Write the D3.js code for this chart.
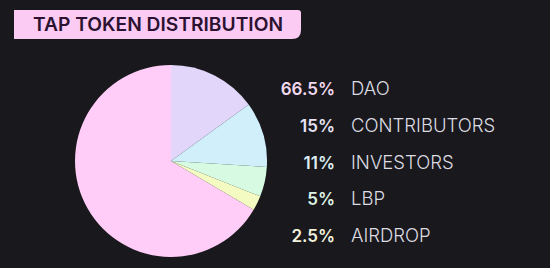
<!DOCTYPE html>
<html><head><meta charset="utf-8">
<script src="https://cdn.jsdelivr.net/npm/d3@7"></script>
<style>html,body{margin:0;padding:0;background:#19181d;overflow:hidden}</style>
</head><body>
<svg id="c" width="550" height="268"></svg>
<script>
const categories = ["DAO", "CONTRIBUTORS", "INVESTORS", "LBP", "AIRDROP"];
const values = [66.5, 15, 11, 5, 2.5];
const pctLabels = ["66.5%", "15%", "11%", "5%", "2.5%"];
const sliceColors = ["#ffcdf8", "#e3d6fb", "#d1eefb", "#d6fbe2", "#f3fbc3"];
const pctColors = ["#f2d9ef", "#e6e2f4", "#ddeef3", "#dff3e5", "#f2f2dc"];
const title = "TAP TOKEN DISTRIBUTION";

const svg = d3.select("#c");
svg.append("rect").attr("width", 550).attr("height", 268).attr("fill", "#19181d");

// Title box: square left, rounded right corners (larger at bottom-right)
const bx0 = 14, by0 = 10, bx1 = 301, by1 = 39, rTop = 3, rBot = 9;
svg.append("path")
  .attr("d", `M${bx0},${by0} H${bx1 - rTop} Q${bx1},${by0} ${bx1},${by0 + rTop} V${by1 - rBot} Q${bx1},${by1} ${bx1 - rBot},${by1} H${bx0} Z`)
  .attr("fill", "#fccbf4");
svg.append("text")
  .attr("x", 33).attr("y", 31)
  .attr("font-family", "Inter, 'Open Sans', sans-serif")
  .attr("font-weight", 600)
  .attr("font-size", 18.5)
  .attr("textLength", 250).attr("lengthAdjust", "spacingAndGlyphs")
  .attr("fill", "#2b1230")
  .text(title);

// Pie
const data = categories.map((c, i) => ({ cat: c, value: values[i], color: sliceColors[i], pct: pctLabels[i], pc: pctColors[i] }));
const a0 = -values[0] / d3.sum(values) * 2 * Math.PI;
const pie = d3.pie().value(d => d.value).sort(null).startAngle(a0).endAngle(a0 + 2 * Math.PI);
const arc = d3.arc().innerRadius(0).outerRadius(96);
svg.append("g").attr("transform", "translate(171,161)")
  .selectAll("path").data(pie(data)).join("path")
  .attr("d", arc).attr("fill", d => d.data.color);

// Legend
const y = d3.scalePoint().domain(categories).range([95, 242]);
const lg = svg.append("g");
lg.selectAll("text.pct").data(data).join("text")
  .attr("class", "pct")
  .attr("x", 335).attr("y", d => y(d.cat))
  .attr("text-anchor", "end")
  .attr("font-family", "Inter, 'Open Sans', sans-serif")
  .attr("font-weight", 600).attr("font-size", 17)
  .attr("fill", d => d.pc)
  .text(d => d.pct);
lg.selectAll("text.lab").data(data).join("text")
  .attr("class", "lab")
  .attr("x", 351).attr("y", d => y(d.cat))
  .attr("font-family", "Inter, 'Open Sans', sans-serif")
  .attr("font-weight", 300).attr("font-size", 18.5)
  .attr("fill", "#dcdce2")
  .text(d => d.cat);
</script>
</body></html>
